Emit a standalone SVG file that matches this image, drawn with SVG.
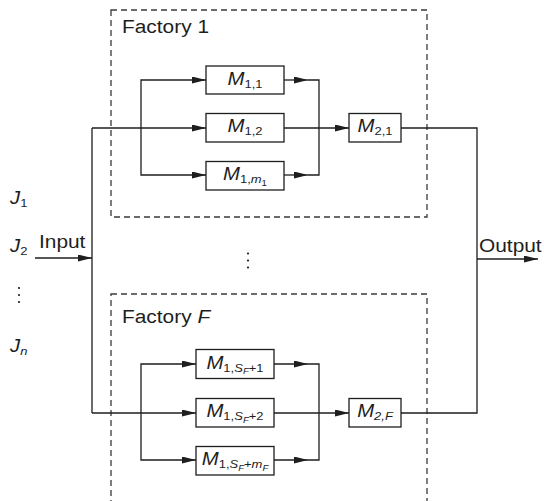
<svg xmlns="http://www.w3.org/2000/svg" width="544" height="501" viewBox="0 0 544 501">
  <style>
    .frame { fill: none; stroke: #3a3a3a; stroke-width: 1.3; stroke-dasharray: 6 4; }
    .box { fill: #ffffff; stroke: #1e1e1e; stroke-width: 1.3; }
    .wire { fill: none; stroke: #1e1e1e; stroke-width: 1.3; }
    .arrow { marker-end: url(#head); }
    text { font-family: "Liberation Sans", Arial, sans-serif; fill: #1e1e1e; font-size: 18px; }
    .lbl { text-anchor: middle; }
    .it { font-style: italic; }
    .sub { font-size: 11.5px; }
    .ssub { font-size: 8.5px; }
  </style>
  <defs>
    <marker id="head" markerUnits="userSpaceOnUse" markerWidth="14" markerHeight="8" refX="14" refY="3.5" orient="auto">
      <path d="M0,0 L14,3.5 L0,7 Z" fill="#1e1e1e"/>
    </marker>
  </defs>

  <!-- factory frames -->
  <g id="factory-1">
    <rect class="frame" x="111" y="10" width="316" height="207"/>
    <text transform="translate(122,33) scale(1.16,1)">Factory 1</text>
  </g>
  <g id="factory-F">
    <rect class="frame" x="111" y="294" width="316" height="240"/>
    <text transform="translate(122,323) scale(1.16,1)">Factory <tspan class="it">F</tspan></text>
  </g>

  <!-- connectors -->
  <g id="connectors">
    <!-- input feed -->
    <path class="wire arrow" d="M35,258 H92"/>
    <path class="wire" d="M92,128 V413"/>
    <path class="wire arrow" d="M92,128 H206"/>
    <path class="wire arrow" d="M92,413 H196"/>
    <!-- factory 1 stage 1 -->
    <path class="wire arrow" d="M141,128 V80 H206"/>
    <path class="wire arrow" d="M141,128 V175 H206"/>
    <path class="wire arrow" d="M284,80 H308"/>
    <path class="wire arrow" d="M284,175 H308"/>
    <path class="wire" d="M308,80 H319 V175 H308"/>
    <path class="wire arrow" d="M284,128 H349"/>
    <!-- factory F stage 1 -->
    <path class="wire arrow" d="M141,413 V364 H196"/>
    <path class="wire arrow" d="M141,413 V460 H196"/>
    <path class="wire arrow" d="M274,364 H308"/>
    <path class="wire arrow" d="M274,460 H308"/>
    <path class="wire" d="M308,364 H319 V460 H308"/>
    <path class="wire arrow" d="M274,413 H349"/>
    <!-- output collector -->
    <path class="wire" d="M401,128 H477 V413 H401"/>
    <path class="wire arrow" d="M477,259 H538"/>
  </g>

  <!-- machines, factory 1 -->
  <g id="m-1-1">
    <rect class="box" x="206" y="66" width="78" height="28"/>
    <text class="lbl" transform="translate(245,84.5) scale(1.13,1)"><tspan class="it">M</tspan><tspan class="sub" dy="3">1,1</tspan></text>
  </g>
  <g id="m-1-2">
    <rect class="box" x="206" y="113.5" width="78" height="28.5"/>
    <text class="lbl" transform="translate(245,132) scale(1.13,1)"><tspan class="it">M</tspan><tspan class="sub" dy="3">1,2</tspan></text>
  </g>
  <g id="m-1-m1">
    <rect class="box" x="206" y="161.5" width="78" height="28.5"/>
    <text class="lbl" transform="translate(245,180) scale(1.13,1)"><tspan class="it">M</tspan><tspan class="sub" dy="3">1,</tspan><tspan class="sub it">m</tspan><tspan class="ssub" dy="2.5">1</tspan></text>
  </g>
  <g id="m-2-1">
    <rect class="box" x="349" y="113.5" width="52" height="28.5"/>
    <text class="lbl" transform="translate(375,132) scale(1.13,1)"><tspan class="it">M</tspan><tspan class="sub" dy="3">2,1</tspan></text>
  </g>

  <!-- machines, factory F -->
  <g id="m-1-sf1">
    <rect class="box" x="196" y="349.5" width="78" height="29"/>
    <text class="lbl" transform="translate(235,368.5) scale(1.13,1)"><tspan class="it">M</tspan><tspan class="sub" dy="3">1,</tspan><tspan class="sub it">S</tspan><tspan class="ssub it" dy="2.5">F</tspan><tspan class="sub" dy="-2.5">+1</tspan></text>
  </g>
  <g id="m-1-sf2">
    <rect class="box" x="196" y="398.5" width="78" height="28.5"/>
    <text class="lbl" transform="translate(235,417) scale(1.13,1)"><tspan class="it">M</tspan><tspan class="sub" dy="3">1,</tspan><tspan class="sub it">S</tspan><tspan class="ssub it" dy="2.5">F</tspan><tspan class="sub" dy="-2.5">+2</tspan></text>
  </g>
  <g id="m-1-sfmf">
    <rect class="box" x="196" y="446.5" width="78" height="28.5"/>
    <text class="lbl" transform="translate(235,465) scale(1.13,1)"><tspan class="it">M</tspan><tspan class="sub" dy="3">1,</tspan><tspan class="sub it">S</tspan><tspan class="ssub it" dy="2.5">F</tspan><tspan class="sub" dy="-2.5">+</tspan><tspan class="sub it">m</tspan><tspan class="ssub it" dy="2.5">F</tspan></text>
  </g>
  <g id="m-2-F">
    <rect class="box" x="349" y="398.5" width="52" height="28.5"/>
    <text class="lbl" transform="translate(375,417) scale(1.13,1)"><tspan class="it">M</tspan><tspan class="sub it" dy="3">2,F</tspan></text>
  </g>

  <!-- job list and flow labels -->
  <g id="jobs">
    <text transform="translate(10,204) scale(1.13,1)"><tspan class="it">J</tspan><tspan class="sub" dy="3">1</tspan></text>
    <text transform="translate(10,252) scale(1.13,1)"><tspan class="it">J</tspan><tspan class="sub" dy="3">2</tspan></text>
    <text transform="translate(10,352) scale(1.13,1)"><tspan class="it">J</tspan><tspan class="sub it" dy="3">n</tspan></text>
    <circle cx="19" cy="288" r="1.1" fill="#1e1e1e"/>
    <circle cx="19" cy="295" r="1.1" fill="#1e1e1e"/>
    <circle cx="19" cy="302" r="1.1" fill="#1e1e1e"/>
  </g>
  <g id="input-label">
    <text transform="translate(39,248) scale(1.16,1)">Input</text>
  </g>
  <g id="output-label">
    <text transform="translate(479,251.5) scale(1.16,1)">Output</text>
  </g>
  <g id="more-factories">
    <circle cx="248" cy="253.5" r="1.1" fill="#1e1e1e"/>
    <circle cx="248" cy="260.5" r="1.1" fill="#1e1e1e"/>
    <circle cx="248" cy="267.5" r="1.1" fill="#1e1e1e"/>
  </g>
</svg>
